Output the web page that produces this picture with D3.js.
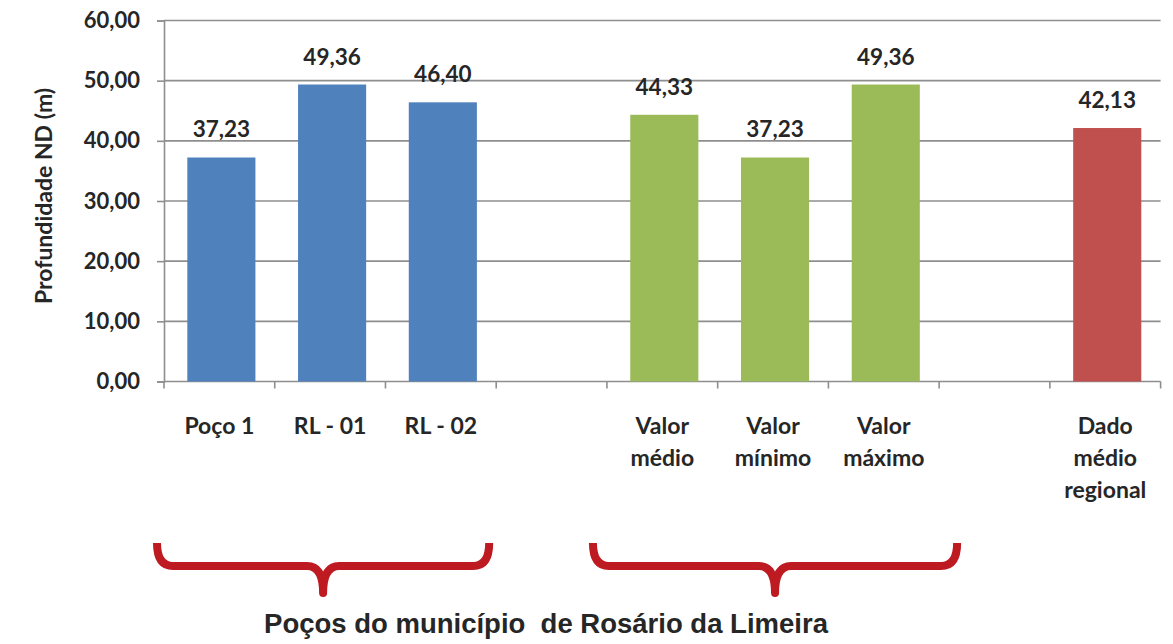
<!DOCTYPE html>
<html>
<head>
<meta charset="utf-8">
<script src="https://cdn.jsdelivr.net/npm/d3@7"></script>
<style>
  body { margin: 0; background: #fff; }
  text { font-family: Lato, "DejaVu Sans", sans-serif; fill: #262626; }
</style>
</head>
<body>
<svg id="chart" width="1173" height="644"></svg>
<script>
// slot keys (the two "gap" slots are the empty spaces between groups)
var slots = ["Poço 1", "RL - 01", "RL - 02", "gap1", "Valor médio", "Valor mínimo", "Valor máximo", "gap2", "Dado médio regional"]
var labelLines = [["Poço 1"], ["RL - 01"], ["RL - 02"], [], ["Valor", "médio"], ["Valor", "mínimo"], ["Valor", "máximo"], [], ["Dado", "médio", "regional"]]
var depth = [37.23, 49.36, 46.40, null, 44.33, 37.23, 49.36, null, 42.13]
var series = ["poco", "poco", "poco", null, "stat", "stat", "stat", null, "regional"]
var yTicks = [0, 10, 20, 30, 40, 50, 60]
var braceGroups = [["Poço 1", "RL - 02"], ["Valor médio", "Valor máximo"]]
var yTitle = "Profundidade ND (m)"
var footnote = "Poços do município  de Rosário da Limeira"

var colors = {poco: "#4f81bd", stat: "#9bbb59", regional: "#c0504d"}

var ptBR = d3.formatLocale({decimal: ",", thousands: ".", grouping: [3], currency: ["R$", ""]})
var fmt = ptBR.format(".2f")

var plotLeft = 164, plotRight = 1160.6, plotTop = 20.5, plotBottom = 381.5

var svg = d3.select("#chart")

// scales
var x = d3.scaleBand()
  .domain(slots)
  .range([plotLeft, plotRight])
  .paddingInner(0.385)
  .paddingOuter(0.1925)

var y = d3.scaleLinear()
  .domain([0, 60])
  .range([plotBottom, plotTop])

// gridlines
svg.append("g")
  .selectAll("line")
  .data(yTicks.slice(1))
  .enter()
  .append("line")
    .attr("x1", plotLeft)
    .attr("x2", plotRight)
    .attr("y1", function (d) { return y(d) })
    .attr("y2", function (d) { return y(d) })
    .attr("stroke", "#8e8e8e")
    .attr("stroke-width", 1.6)

// y axis
var yAxis = svg.append("g")
  .attr("transform", "translate(" + plotLeft + ",0)")
  .call(d3.axisLeft(y).tickValues(yTicks).tickSize(7).tickPadding(17).tickFormat(fmt))
yAxis.select(".domain").attr("stroke", "#8e8e8e").attr("stroke-width", 1.6)
yAxis.selectAll(".tick line").attr("stroke", "#8e8e8e").attr("stroke-width", 1.6)
yAxis.selectAll(".tick text")
  .style("font-family", "Lato, sans-serif")
  .style("font-size", "22px")
  .style("font-weight", "bold")
  .attr("fill", "#333")

// x axis line + boundary ticks
var half = x.step() * x.paddingInner() / 2
var bounds = slots.map(function (s) { return x(s) - half })
bounds.push(plotRight)
svg.append("line")
  .attr("x1", plotLeft).attr("x2", plotRight)
  .attr("y1", plotBottom).attr("y2", plotBottom)
  .attr("stroke", "#8e8e8e").attr("stroke-width", 1.6)
svg.append("g")
  .selectAll("line")
  .data(bounds)
  .enter()
  .append("line")
    .attr("x1", function (d) { return d })
    .attr("x2", function (d) { return d })
    .attr("y1", plotBottom)
    .attr("y2", plotBottom + 7)
    .attr("stroke", "#8e8e8e").attr("stroke-width", 1.6)

// bars
var idx = d3.range(slots.length).filter(function (i) { return depth[i] != null })
svg.append("g")
  .selectAll("rect")
  .data(idx)
  .enter()
  .append("rect")
    .attr("x", function (i) { return x(slots[i]) + 2 })
    .attr("width", x.bandwidth())
    .attr("y", function (i) { return y(depth[i]) })
    .attr("height", function (i) { return y(0) - y(depth[i]) })
    .attr("fill", function (i) { return colors[series[i]] })

// value labels
svg.append("g")
  .selectAll("text")
  .data(idx)
  .enter()
  .append("text")
    .attr("x", function (i) { return x(slots[i]) + 2 + x.bandwidth() / 2 })
    .attr("y", function (i) { return y(depth[i]) - 20 })
    .attr("text-anchor", "middle")
    .style("font-size", "22.5px")
    .style("font-weight", "bold")
    .attr("fill", "#333")
    .text(function (i) { return fmt(depth[i]) })

// category labels
var cat = svg.append("g")
  .selectAll("text")
  .data(d3.range(slots.length))
  .enter()
  .append("text")
    .attr("text-anchor", "middle")
    .style("font-size", "23px")
    .style("font-weight", "bold")
    .attr("transform", function (i) { return "translate(" + (x(slots[i]) + x.bandwidth() / 2) + ",434)" })
cat.selectAll("tspan")
  .data(function (i) { return labelLines[i] })
  .enter()
  .append("tspan")
    .attr("x", 0)
    .attr("y", function (d, j) { return j * 32 })
    .text(function (d) { return d })

// y title
svg.append("text")
  .attr("transform", "translate(52,196) rotate(-90)")
  .attr("text-anchor", "middle")
  .style("font-size", "23px")
  .style("font-weight", "bold")
  .text(yTitle)

// braces under the groups
var braceTop = 543, braceMid = 566, braceTip = 593, r = 16
braceGroups.forEach(function (g, k) {
  var x0 = x(g[0]) - half - (k == 0 ? 7 : 14)
  var x1 = x(g[1]) + x.bandwidth() + half + (k == 0 ? -7 : 18)
  var xm = (x0 + x1) / 2
  var p = d3.path()
  p.moveTo(x0, braceTop)
  p.quadraticCurveTo(x0, braceMid, x0 + r, braceMid)
  p.lineTo(xm - r, braceMid)
  p.quadraticCurveTo(xm, braceMid, xm, braceTip)
  p.quadraticCurveTo(xm, braceMid, xm + r, braceMid)
  p.lineTo(x1 - r, braceMid)
  p.quadraticCurveTo(x1, braceMid, x1, braceTop)
  svg.append("path")
    .attr("d", p.toString())
    .attr("fill", "none")
    .attr("stroke", "#bd1a22")
    .attr("stroke-width", 8)
    .attr("stroke-linejoin", "round")
})

// footnote
svg.append("text")
  .attr("x", 546)
  .attr("y", 633)
  .attr("text-anchor", "middle")
  .style("font-family", "'Liberation Sans', Arial, sans-serif")
  .style("font-size", "27.5px")
  .style("font-weight", "bold")
  .style("white-space", "pre")
  .attr("fill", "#111")
  .text(footnote)
</script>
</body>
</html>
